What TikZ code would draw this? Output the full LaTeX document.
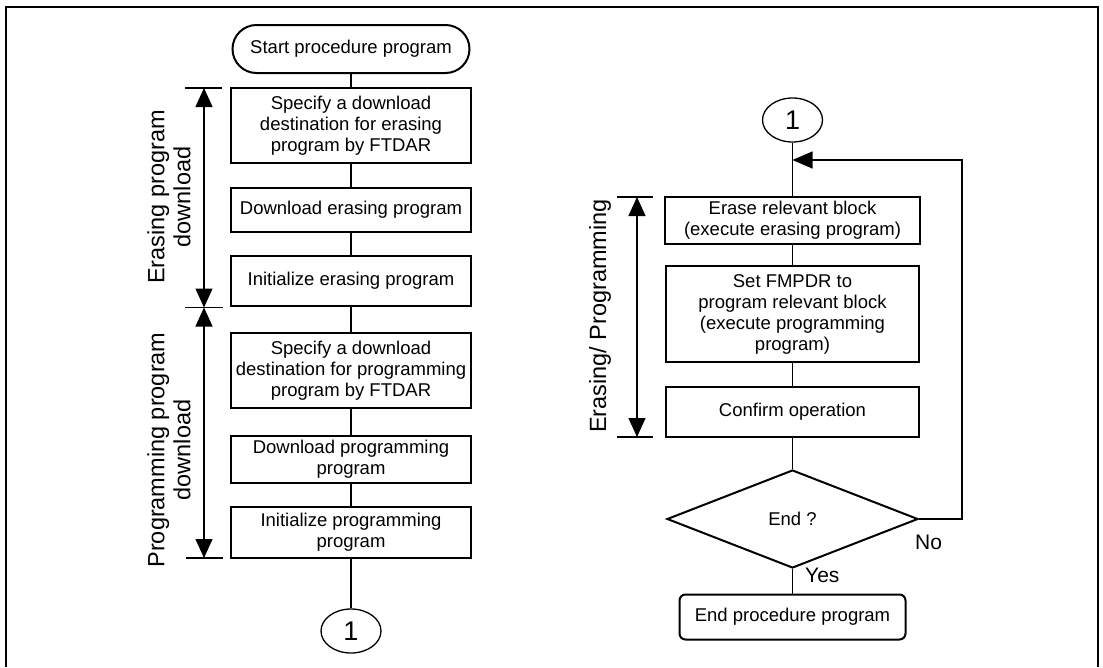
\documentclass[tikz,border=0pt]{standalone}
\usepackage{fontspec}
\setmainfont{Liberation Sans}
\usetikzlibrary{shapes.geometric, arrows.meta}

\begin{document}
\begin{tikzpicture}[x=1pt, y=-1pt,
  every node/.style={font=\fontsize{18.5}{21}\selectfont, align=center, inner sep=0pt},
  box/.style={draw, line width=2.2pt, minimum width=240pt},
  term/.style={draw, line width=2pt, rounded corners=#1},
  conn/.style={line width=1.2pt},
  bubble/.style={draw, ellipse, line width=1.3pt, minimum width=60pt, minimum height=44pt, font=\fontsize{27}{30}\selectfont},
  span/.style={line width=1.2pt, {Triangle[length=19pt,width=17pt]}-{Triangle[length=19pt,width=17pt]}},
  spanlabel/.style={rotate=90, font=\fontsize{23.5}{26}\selectfont},
  answer/.style={anchor=west, font=\fontsize{21}{24}\selectfont}]
  \useasboundingbox (0,0) rectangle (1103,667);
  \draw[line width=2pt] (6,667) -- (6,7) -- (1098,7) -- (1098,667);
  \node[term=24pt, minimum width=237pt, minimum height=48pt] (start) at (351,49) {Start procedure program};
  \node[box, minimum height=75pt] (dlera) at (351,125.5) {Specify a download\\destination for erasing\\program by FTDAR};
  \node[box, minimum height=44pt] (loadera) at (351,210) {Download erasing program};
  \node[box, minimum height=50pt] (iniera) at (351,281) {Initialize erasing program};
  \node[box, minimum height=75pt] (dlprg) at (351,370.5) {Specify a download\\destination for programming\\program by FTDAR};
  \node[box, minimum height=47pt] (loadprg) at (351,459.5) {Download programming\\program};
  \node[box, minimum height=51pt] (iniprg) at (351,532.5) {Initialize programming\\program};
  \node[bubble] (outA) at (351,631) {1};
  \draw[conn] (start) -- (dlera);
  \draw[conn] (dlera) -- (loadera);
  \draw[conn] (loadera) -- (iniera);
  \draw[conn] (iniera) -- (dlprg);
  \draw[conn] (dlprg) -- (loadprg);
  \draw[conn] (loadprg) -- (iniprg);
  \draw[conn] (iniprg) -- (outA);
  \coordinate (eraTop) at (204,88);
  \coordinate (eraBot) at (204,307.5);
  \coordinate (prgBot) at (204,558);
  \draw[span] (eraTop) -- (eraBot);
  \draw[span] (eraBot) -- (prgBot);
  \draw[conn] (185,88) -- (222,88);
  \draw[conn] (185,307.5) -- (223,307.5);
  \draw[conn] (186,558) -- (223,558);
  \node[spanlabel] (eraLbl) at (169,197) {Erasing program\\download};
  \node[spanlabel] (prgLbl) at (169,450) {Programming program\\download};
  \node[bubble] (inA) at (792.5,120) {1};
  \node[box, minimum width=255pt, minimum height=47pt] (erase) at (792.5,220.5) {Erase relevant block\\(execute erasing program)};
  \node[box, minimum width=253pt, minimum height=96pt] (prog) at (792.5,314) {Set FMPDR to\\program relevant block\\(execute programming\\program)};
  \node[box, minimum width=253pt, minimum height=50pt] (confirm) at (792.5,412) {Confirm operation};
  \node[draw, diamond, aspect=2.56, minimum width=251pt, minimum height=98pt, line width=2pt] (done) at (792.5,519) {End ?};
  \node[term=6pt, minimum width=226pt, minimum height=45pt] (finish) at (792.5,617) {End procedure program};
  \draw[conn] (inA) -- (erase);
  \draw[conn] (erase) -- (prog);
  \draw[conn] (prog) -- (confirm);
  \draw[conn] (confirm) -- (done);
  \draw[conn] (done) -- (finish);
  \coordinate (loop) at (962,160);
  \draw[conn, -{Triangle[length=20pt,width=17pt]}] (done.east) -| (loop) -- (inA.south |- loop);
  \node[answer] (noLbl) at (915,542) {No};
  \node[answer] (yesLbl) at (805,575) {Yes};
  \coordinate (cycTop) at (637,197);
  \coordinate (cycBot) at (637,437);
  \draw[span] (cycTop) -- (cycBot);
  \draw[conn] (617,197) -- (653,197);
  \draw[conn] (617,437) -- (653,437);
  \node[spanlabel] (cycLbl) at (600,316) {Erasing/ Programming};
\end{tikzpicture}
\end{document}
